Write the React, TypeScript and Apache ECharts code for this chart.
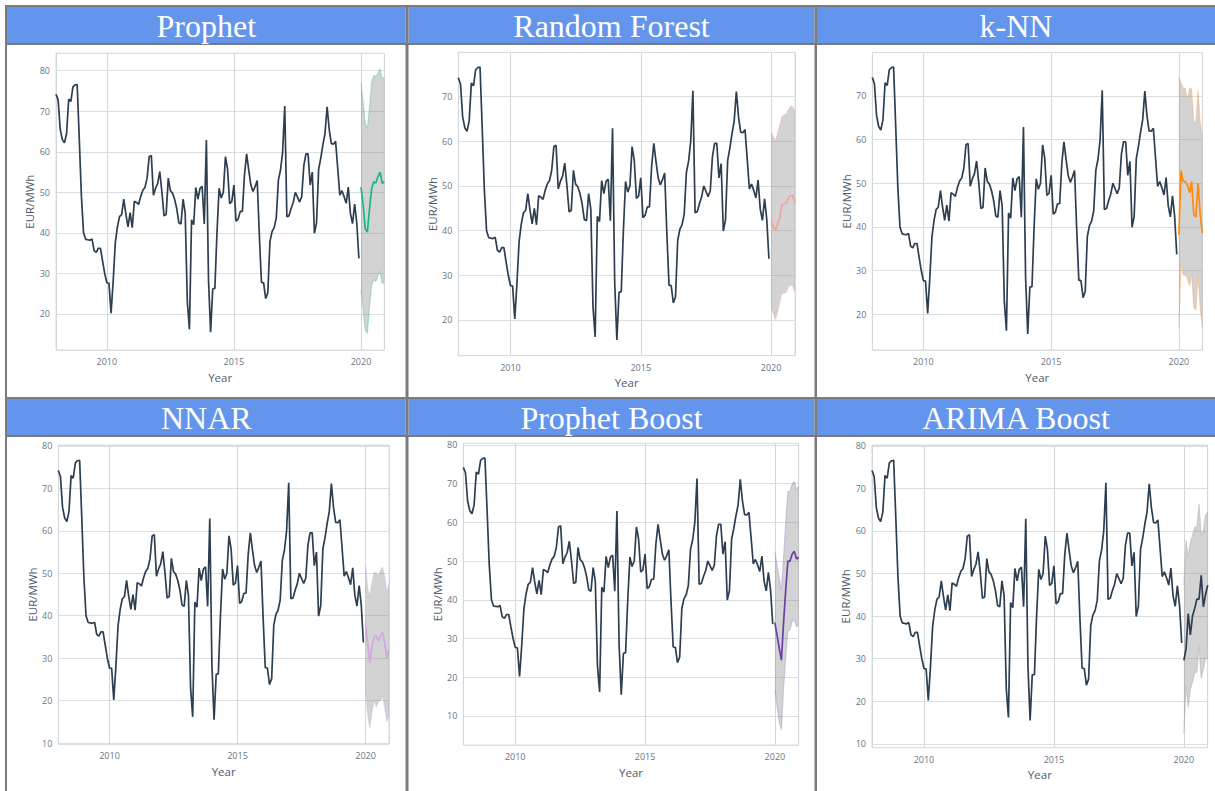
import React, { useEffect, useRef } from "react";
import * as echarts from "echarts";

// ---------- DATA ----------
const HIST_START = 2008;
const FORECAST_START = 2020;

const h2008 = [74.2, 72.8, 65.5, 63.0, 62.2, 64.5, 73.0, 72.4, 76.0, 76.5, 76.6, 63.0];
const h2009 = [49.0, 40.0, 38.4, 38.3, 38.2, 38.5, 35.6, 35.2, 36.2, 36.2, 33.0, 30.0];
const h2010 = [27.7, 27.6, 20.2, 28.2, 37.6, 41.5, 44.0, 44.5, 48.3, 44.6, 41.5, 45.0];
const h2011 = [41.3, 47.8, 47.5, 47.0, 49.0, 50.5, 51.2, 53.5, 58.8, 59.1, 49.3, 51.0];
const h2012 = [52.2, 55.1, 50.1, 44.2, 44.5, 53.5, 50.4, 49.8, 48.3, 46.0, 42.5, 42.2];
const h2013 = [48.3, 44.8, 23.0, 16.2, 43.2, 42.0, 51.2, 48.3, 51.0, 51.5, 42.2, 62.9];
const h2014 = [28.4, 15.5, 26.2, 26.3, 40.0, 51.0, 48.6, 50.0, 58.8, 55.7, 47.2, 47.7];
const h2015 = [51.8, 42.9, 43.4, 45.3, 45.3, 54.4, 59.5, 55.5, 51.8, 50.2, 51.4, 52.9];
const h2016 = [39.5, 27.8, 27.7, 23.8, 25.2, 37.8, 40.3, 41.3, 43.7, 53.0, 55.5, 60.0];
const h2017 = [71.3, 44.0, 44.2, 46.0, 47.5, 50.0, 48.8, 47.6, 48.9, 56.6, 59.5, 59.5];
const h2018 = [51.8, 55.0, 39.9, 42.4, 55.7, 58.4, 61.7, 64.5, 71.1, 65.5, 62.0, 61.9];
const h2019 = [62.6, 56.0, 49.3, 50.4, 49.0, 47.3, 51.3, 44.8, 42.3, 47.1, 42.5, 33.7];
const history = [
  ...h2008, ...h2009, ...h2010, ...h2011, ...h2012, ...h2013,
  ...h2014, ...h2015, ...h2016, ...h2017, ...h2018, ...h2019,
];

const prophetMean = [51.3, 47.0, 41.0, 40.2, 45.8, 50.8, 52.6, 52.3, 53.9, 55.0, 52.2, 52.6];
const prophetLower = [26.0, 21.0, 16.0, 15.2, 21.5, 27.0, 28.5, 28.0, 29.5, 30.5, 27.5, 27.8];
const prophetUpper = [76.9, 72.5, 67.0, 65.8, 71.0, 77.0, 78.8, 78.6, 79.4, 80.4, 78.0, 78.3];

const rfMean = [42.2, 41.0, 40.0, 41.5, 43.0, 45.8, 46.0, 46.2, 47.3, 47.8, 47.8, 46.0];
const rfLower = [22.6, 21.5, 20.1, 21.9, 24.1, 26.0, 26.0, 26.3, 27.5, 27.8, 27.6, 26.3];
const rfUpper = [62.0, 61.0, 60.0, 61.8, 63.7, 65.5, 65.9, 66.1, 67.0, 67.8, 67.6, 66.6];

const knnMean = [38.2, 52.9, 50.5, 50.4, 49.6, 47.8, 50.4, 42.8, 42.3, 50.0, 43.0, 38.6];
const knnLower = [16.8, 31.7, 29.0, 29.0, 28.2, 26.5, 29.0, 21.5, 21.0, 29.0, 21.5, 17.0];
const knnUpper = [74.3, 73.0, 71.8, 71.8, 69.0, 71.8, 71.5, 64.2, 63.8, 71.4, 64.0, 60.5];

const nnarMean = [37.8, 33.6, 29.0, 32.6, 35.0, 35.4, 34.0, 35.2, 36.2, 33.5, 30.0, 32.0];
const nnarLower = [22.9, 16.8, 13.5, 17.4, 20.2, 18.6, 19.8, 20.0, 21.0, 18.5, 15.0, 16.6];
const nnarUpper = [51.9, 46.5, 44.5, 47.6, 50.2, 50.0, 49.5, 50.6, 51.4, 49.0, 45.5, 47.6];

const pbMean = [34.1, 30.8, 27.5, 24.4, 34.0, 42.6, 50.0, 50.0, 51.8, 52.5, 50.5, 51.0];
const pbLower = [16.7, 12.4, 8.5, 6.4, 17.0, 25.0, 32.0, 32.2, 34.4, 34.8, 33.0, 33.5];
const pbUpper = [52.4, 48.9, 45.6, 42.5, 51.0, 60.0, 68.0, 68.0, 70.0, 70.5, 68.5, 69.2];

const abMean = [29.6, 32.3, 40.6, 35.6, 40.1, 41.8, 44.0, 44.0, 49.6, 42.2, 45.1, 47.3];
const abLower = [12.4, 23.7, 18.6, 22.9, 24.5, 26.8, 26.8, 33.1, 25.3, 27.6, 30.0, 30.0];
const abUpper = [47.2, 57.8, 53.9, 57.4, 59.0, 60.9, 60.9, 66.4, 59.0, 60.2, 63.7, 64.5];

const titles = ["Prophet", "Random Forest", "k-NN", "NNAR", "Prophet Boost", "ARIMA Boost"];

// ---------- STYLE / LAYOUT ----------
const panels = [
  { mean: prophetMean, lower: prophetLower, upper: prophetUpper, color: "#1db38c", edge: "rgba(26,188,156,0.32)", yMin: 11.1, yMax: 84.3, rect: [56, 53.3, 328.3, 296.7] },
  { mean: rfMean, lower: rfLower, upper: rfUpper, color: "#f6a39c", edge: "rgba(246,163,156,0.4)", yMin: 12.0, yMax: 79.9, rect: [458.3, 52.3, 336.7, 303.4] },
  { mean: knnMean, lower: knnLower, upper: knnUpper, color: "#ff8a0d", edge: "rgba(255,150,60,0.32)", yMin: 11.8, yMax: 79.9, rect: [872.3, 52.7, 330, 297.3] },
  { mean: nnarMean, lower: nnarLower, upper: nnarUpper, color: "#cfa9e0", edge: "rgba(200,170,220,0.4)", yMin: 9.8, yMax: 80.2, rect: [58.3, 445, 330.7, 299] },
  { mean: pbMean, lower: pbLower, upper: pbUpper, color: "#6c3fa8", edge: "rgba(160,130,200,0.38)", yMin: 2.5, yMax: 80.4, rect: [463.3, 443.3, 335.4, 301.7] },
  { mean: abMean, lower: abLower, upper: abUpper, color: "#2c3e50", edge: "rgba(170,170,170,0.45)", yMin: 9.1, yMax: 80.2, rect: [872, 445, 335.7, 302.7] },
];

const HIST_COLOR = "#2c3e50";
const BAND_FILL = "rgba(128,128,128,0.35)";
const TICK_COLOR = "#6a7486";
const TITLE_COLOR = "#505c6c";
const BORDER = "#7b7b7b";
const BLUE = "#6495ed";

const cellCols = [
  { x: 7, w: 398.5 },
  { x: 408.5, w: 406 },
  { x: 817, w: 398 },
];
const headerRows = [
  { y: 7, h: 36 },
  { y: 399, h: 36 },
];

function toPoints(values: number[], start: number) {
  return values.map((v, i) => [start + i / 12, v]);
}

export default function App() {
  const ref = useRef<HTMLDivElement>(null);

  useEffect(() => {
    if (!ref.current) return;
    const chart = echarts.init(ref.current, null, { renderer: "svg" });

    const grid: any[] = [];
    const xAxis: any[] = [];
    const yAxis: any[] = [];
    const series: any[] = [];

    panels.forEach((p, k) => {
      const [left, top, width, height] = p.rect;
      grid.push({ left, top, width, height, show: true, borderColor: "#d8dce1", borderWidth: 1, backgroundColor: "transparent" });
      xAxis.push({
        type: "value",
        gridIndex: k,
        min: HIST_START,
        max: FORECAST_START + 11 / 12,
        minInterval: 5,
        maxInterval: 5,
        splitNumber: 3,
        axisLine: { show: false },
        axisTick: { show: false },
        splitLine: { show: true, lineStyle: { color: "#d4d7db", width: 1 } },
        axisLabel: {
          color: TICK_COLOR,
          fontSize: 9,
          fontFamily: "Open Sans",
          margin: 7,
          showMinLabel: false,
          showMaxLabel: false,
          formatter: (v: number) => String(Math.round(v)),
        },
        name: "Year",
        nameLocation: "middle",
        nameGap: 21,
        nameTextStyle: { color: TITLE_COLOR, fontSize: 11.5, fontFamily: "Open Sans" },
      });
      yAxis.push({
        type: "value",
        gridIndex: k,
        min: p.yMin,
        max: p.yMax,
        minInterval: 10,
        maxInterval: 10,
        axisLine: { show: false },
        axisTick: { show: false },
        splitLine: { show: true, lineStyle: { color: "#dcdfe2", width: 1 } },
        axisLabel: {
          color: TICK_COLOR,
          fontSize: 9,
          fontFamily: "Open Sans",
          margin: 6,
          showMinLabel: false,
          showMaxLabel: false,
          formatter: (v: number) => String(Math.round(v)),
        },
        name: "EUR/MWh",
        nameLocation: "middle",
        nameGap: 19,
        nameTextStyle: { color: TITLE_COLOR, fontSize: 11.5, fontFamily: "Open Sans" },
      });

      // confidence band
      series.push({
        type: "custom",
        xAxisIndex: k,
        yAxisIndex: k,
        silent: true,
        z: 1,
        dimensions: ["x", "lo", "hi"],
        encode: { x: 0, y: [1, 2] },
        data: p.lower.map((lo, i) => [FORECAST_START + i / 12, lo, p.upper[i]]),
        renderItem: (params: any, api: any) => {
          if (params.dataIndexInside !== 0) return null;
          const n = params.dataInsideLength;
          const up: number[][] = [];
          const lo: number[][] = [];
          for (let i = 0; i < n; i++) {
            const x = api.value(0, i);
            lo.push(api.coord([x, api.value(1, i)]));
            up.push(api.coord([x, api.value(2, i)]));
          }
          return {
            type: "polygon",
            shape: { points: up.concat(lo.reverse()) },
            style: { fill: BAND_FILL, stroke: "none" },
            silent: true,
          };
        },
      });
      // band edges
      [p.lower, p.upper].forEach((edge) => {
        series.push({
          type: "line",
          xAxisIndex: k,
          yAxisIndex: k,
          silent: true,
          z: 2,
          showSymbol: false,
          symbol: "none",
          data: toPoints(edge, FORECAST_START),
          lineStyle: { color: p.edge, width: 1.2 },
        });
      });
      // history
      series.push({
        type: "line",
        xAxisIndex: k,
        yAxisIndex: k,
        silent: true,
        z: 3,
        showSymbol: false,
        symbol: "none",
        data: toPoints(history, HIST_START),
        lineStyle: { color: HIST_COLOR, width: 1.7 },
      });
      // forecast mean
      series.push({
        type: "line",
        xAxisIndex: k,
        yAxisIndex: k,
        silent: true,
        z: 4,
        showSymbol: false,
        symbol: "none",
        data: toPoints(p.mean, FORECAST_START),
        lineStyle: { color: p.color, width: 1.7 },
      });
    });

    const graphic: any[] = [];
    headerRows.forEach((r, ri) => {
      cellCols.forEach((c, ci) => {
        graphic.push({ type: "rect", shape: { x: c.x, y: r.y, width: c.w, height: r.h }, style: { fill: BLUE }, z: 1 });
        graphic.push({
          type: "text",
          x: c.x + c.w / 2,
          y: r.y + r.h / 2 + 1,
          z: 3,
          style: {
            text: titles[ri * 3 + ci],
            fill: "#ffffff",
            font: "32px 'Liberation Serif', 'Times New Roman', serif",
            align: "center",
            verticalAlign: "middle",
          },
        });
      });
    });
    const borderRects = [
      [5, 5, 1210, 2],
      [5, 5, 2, 786],
      [405.5, 5, 3, 786],
      [814.5, 5, 2.5, 786],
      [5, 43, 1210, 2],
      [5, 397, 1210, 2],
      [5, 435, 1210, 2],
    ];
    borderRects.forEach(([x, y, w, h]) => {
      graphic.push({ type: "rect", shape: { x, y, width: w, height: h }, style: { fill: BORDER }, z: 2 });
    });

    chart.setOption({
      animation: false,
      backgroundColor: "#ffffff",
      textStyle: { fontFamily: "Open Sans" },
      grid,
      xAxis,
      yAxis,
      series,
      graphic,
    });

    return () => chart.dispose();
  }, []);

  return <div ref={ref} style={{ position: "fixed", left: 0, top: 0, width: 1215, height: 791 }} />;
}
